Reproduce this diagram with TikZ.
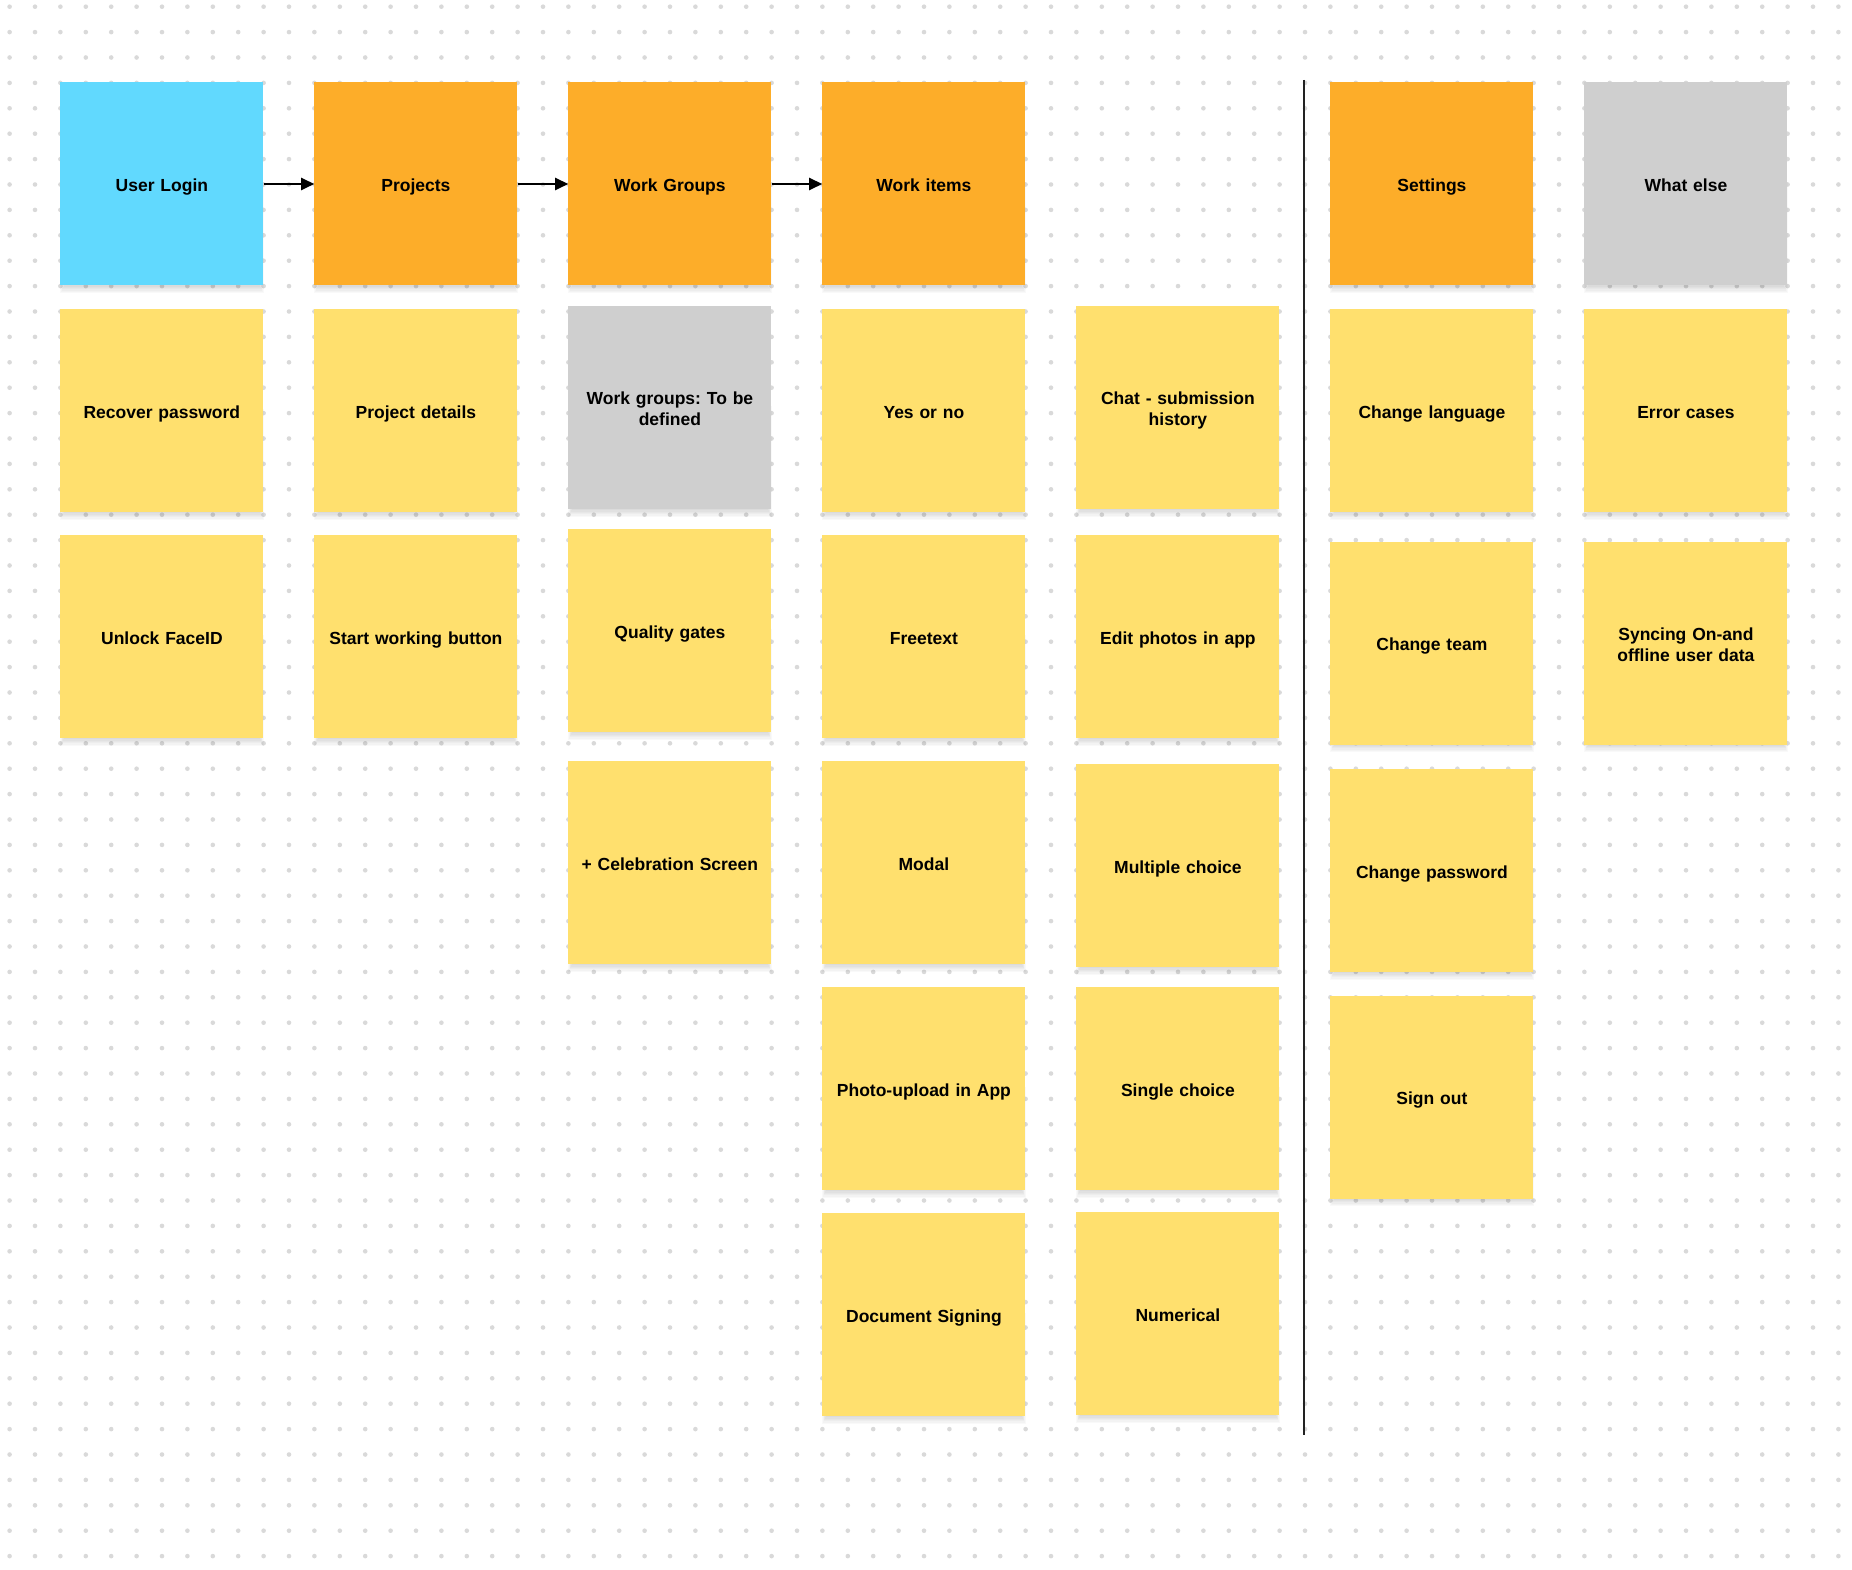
\documentclass[tikz,border=0pt]{standalone}
\usepackage{fontspec}
\setmainfont{Liberation Sans}
\frenchspacing
\usetikzlibrary{arrows.meta}
\definecolor{noteblue}{HTML}{61D9FE}
\definecolor{noteorange}{HTML}{FDAD29}
\definecolor{noteyellow}{HTML}{FFE06E}
\definecolor{notegray}{HTML}{CFCFCF}
\definecolor{dotgray}{HTML}{D9D9D9}
\definecolor{divider}{HTML}{222222}
\tikzset{
  notebox/.style={rectangle, inner sep=0pt, minimum width=203pt, minimum height=203pt,
    text width=190pt, align=center, font=\fontsize{17.5pt}{21pt}\selectfont\bfseries\frenchspacing, text=black,
    execute at begin node={\rule{0pt}{21.7pt}}, execute at end node={\rule[-6.3pt]{0pt}{6.3pt}}},
  flowarrow/.style={line width=2.5pt, -{Triangle[length=13pt,width=12pt]}},
  dividerline/.style={line width=2.6pt, draw=divider},
}
\newcommand{\sticky}[5]{%
  \foreach \k in {1,...,6}{\fill[black,opacity=0.022] (#2+4-\k*0.7,#3+100) rectangle (#2+199+\k*0.7,#3+203+\k*1.3);}
  \node[notebox, fill=#4] (#1) at (#2+101.5,#3+101.5) {#5};%
}
\begin{document}
\begin{tikzpicture}[x=1pt,y=-1pt]
\fill[white] (0,0) rectangle (1852,1570);
\useasboundingbox (0,0) rectangle (1852,1570);
% dot grid
\foreach \i in {0,...,72}{
  \foreach \j in {0,...,61}{
    \fill[dotgray] (9.6+25.4*\i,6.7+25.4*\j) circle (2.3pt);
  }
}
% column 1
\sticky{login}{60.4}{82.5}{noteblue}{User Login}
\sticky{recover}{60.4}{309}{noteyellow}{Recover password}
\sticky{unlock}{60.4}{535}{noteyellow}{Unlock FaceID}
% column 2
\sticky{projects}{314.4}{82.5}{noteorange}{Projects}
\sticky{projdetails}{314.4}{309}{noteyellow}{Project details}
\sticky{startbtn}{314.4}{535}{noteyellow}{Start working button}
% column 3
\sticky{workgroups}{568.4}{82.5}{noteorange}{Work Groups}
\sticky{wgtbd}{568.4}{306}{notegray}{Work groups: To be\\defined}
\sticky{quality}{568.4}{529}{noteyellow}{Quality gates}
\sticky{celebration}{568.4}{761}{noteyellow}{+ Celebration Screen}
% column 4
\sticky{workitems}{822.4}{82.5}{noteorange}{Work items}
\sticky{yesno}{822.4}{309}{noteyellow}{Yes or no}
\sticky{freetext}{822.4}{535}{noteyellow}{Freetext}
\sticky{modal}{822.4}{761}{noteyellow}{Modal}
\sticky{photoupload}{822.4}{987}{noteyellow}{Photo-upload in App}
\sticky{docsign}{822.4}{1213}{noteyellow}{Document Signing}
% column 5
\sticky{chat}{1076.4}{306}{noteyellow}{Chat - submission\\history}
\sticky{editphotos}{1076.4}{535}{noteyellow}{Edit photos in app}
\sticky{multiple}{1076.4}{764}{noteyellow}{Multiple choice}
\sticky{single}{1076.4}{987}{noteyellow}{Single choice}
\sticky{numerical}{1076.4}{1212}{noteyellow}{Numerical}
% column 6
\sticky{settings}{1330.4}{82.5}{noteorange}{Settings}
\sticky{changelang}{1330.4}{309}{noteyellow}{Change language}
\sticky{changeteam}{1330.4}{541.5}{noteyellow}{Change team}
\sticky{changepw}{1330.4}{769}{noteyellow}{Change password}
\sticky{signout}{1330.4}{995.5}{noteyellow}{Sign out}
% column 7
\sticky{whatelse}{1584.4}{82.5}{notegray}{What else}
\sticky{errors}{1584.4}{309}{noteyellow}{Error cases}
\sticky{syncing}{1584.4}{541.5}{noteyellow}{Syncing On-and\\offline user data}
% arrows
\draw[flowarrow] (login.east) -- (projects.west);
\draw[flowarrow] (projects.east) -- (workgroups.west);
\draw[flowarrow] (workgroups.east) -- (workitems.west);
% divider
\coordinate (divtop) at (1304,80);
\coordinate (divbot) at (1304,1435);
\draw[dividerline] (divtop) -- (divbot);
\end{tikzpicture}
\end{document}
